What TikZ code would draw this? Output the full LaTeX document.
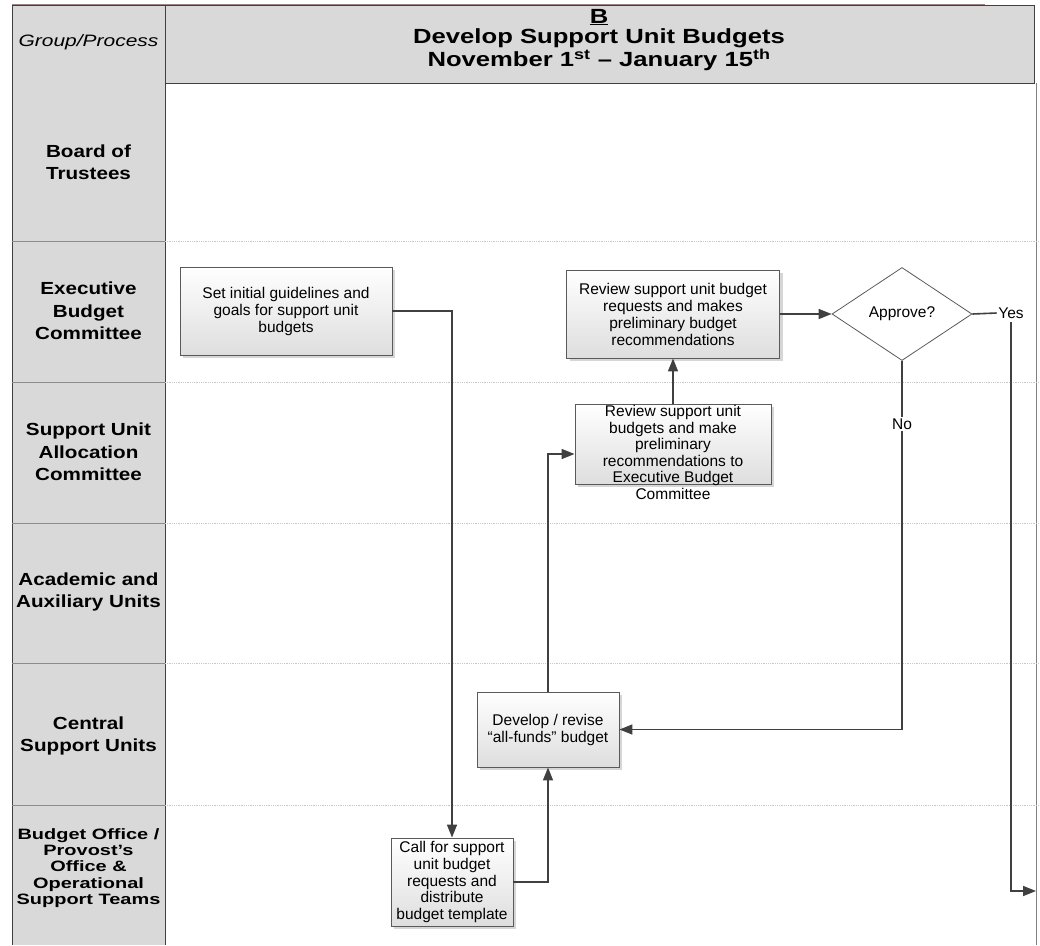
\documentclass[tikz,border=0pt]{standalone}
\usepackage{fontspec}
\setmainfont{Liberation Sans}
\newfontfamily\hdrfont[FakeStretch=1.27]{Liberation Sans}
\newfontfamily\titlefont[FakeStretch=1.25]{Liberation Sans}
\newfontfamily\lanefont[FakeStretch=1.18]{Liberation Sans}
\newfontfamily\lanewidefont[FakeStretch=1.33]{Liberation Sans}
\usetikzlibrary{shapes.geometric,arrows.meta,shadows}
\definecolor{lanegray}{HTML}{D9D9D9}
\definecolor{edgegray}{HTML}{404040}
\definecolor{boxgray}{HTML}{5A5A5A}
\definecolor{sepgray}{HTML}{C8C8C8}
\definecolor{topred}{HTML}{B07A7A}
\tikzset{
  procbox/.style={draw=boxgray, line width=0.9pt, top color=white, bottom color=black!13,
    align=center, font=\fontsize{15.5}{17}\selectfont, inner sep=1pt,
    drop shadow={shadow xshift=3pt, shadow yshift=-3pt, fill=black!35, opacity=0.45}},
  boxtext/.style={align=center, font=\fontsize{15.5}{16.5}\selectfont, inner sep=1pt},
  decision/.style={diamond, draw=boxgray, line width=0.8pt, fill=white, inner sep=0pt,
    font=\fontsize{15.5}{17}\selectfont},
  flow/.style={draw=edgegray, line width=1.6pt, -{Triangle[length=13pt,width=10pt]}},
  plainline/.style={draw=edgegray, line width=1.6pt},
  lanelbl/.style={align=center, font=\lanefont\bfseries\fontsize{17.5}{22.5}\selectfont},
  edgelbl/.style={font=\fontsize{15.5}{17}\selectfont, inner sep=1.5pt},
  lanesep/.style={draw=sepgray, line width=0.8pt, densely dotted},
  colsep/.style={draw=black!45, line width=0.8pt},
}
\begin{document}
\begin{tikzpicture}[x=1pt,y=-1pt]
\useasboundingbox (0,0) rectangle (1040,945);
\fill[white] (0,0) rectangle (1040,945);
% header
\fill[lanegray] (12,5) rectangle (1034,83);
\draw[edgegray, line width=0.9pt] (12,83) -- (12,5) -- (1034,5) -- (1034,83) -- cycle;
\draw[topred, line width=1.2pt] (12,4.5) -- (985,4.5);
\draw[edgegray, line width=0.9pt] (165,5) -- (165,83);
\node[font=\hdrfont\itshape\fontsize{16.5}{20}\selectfont] (gp) at (88.5,42) {Group/Process};
\node[align=center, font=\titlefont\bfseries\fontsize{20.5}{20}\selectfont] (title) at (599,40)
  {\underline{B}\\ Develop Support Unit Budgets\\ November 1\textsuperscript{st} – January 15\textsuperscript{th}};
% left column
\fill[lanegray] (12,83) rectangle (165,945);
\draw[edgegray, line width=0.9pt] (12,83) -- (12,945);
\draw[edgegray, line width=0.9pt] (165,83) -- (165,945);
\draw[black!50, line width=0.8pt] (1036,83) -- (1036,945);
% lane separators
\foreach \yy in {241,382,523,663,805} {
  \draw[colsep] (12,\yy) -- (165,\yy);
  \draw[lanesep] (165,\yy) -- (1040,\yy);
}
% lane labels
\node[lanelbl] (l1) at (88.5,162) {Board of\\Trustees};
\node[lanelbl] (l2) at (88.5,311) {Executive\\Budget\\Committee};
\node[lanelbl] (l3) at (88.5,452) {Support Unit\\Allocation\\Committee};
\node[lanelbl] (l4) at (88.5,592) {Academic and\\Auxiliary Units};
\node[lanelbl] (l5) at (88.5,736) {Central\\Support Units};
\node[lanelbl, font=\lanewidefont\bfseries\fontsize{15}{16.3}\selectfont] (l6) at (88.5,868)
  {Budget Office /\\Provost’s\\Office \&\\Operational\\Support Teams};
% process boxes
\node[procbox, minimum width=212pt, minimum height=88pt] (set) at (286,311)
  {Set initial guidelines and\\goals for support unit\\budgets};
\node[procbox, minimum width=213pt, minimum height=88pt] (ebc) at (673,314)
  {Review support unit budget\\requests and makes\\preliminary budget\\recommendations};
\node[decision, minimum width=140pt, minimum height=93pt] (dec) at (902,314) {Approve?};
\node[procbox, minimum width=196pt, minimum height=80pt] (suac) at (673,444) {};
\node[boxtext, anchor=north] (suactext) at ([yshift=-1pt]suac.north)
  {Review support unit\\budgets and make\\preliminary\\recommendations to\\Executive Budget\\Committee};
\node[procbox, minimum width=142pt, minimum height=75pt] (dev) at (548,729.5)
  {Develop / revise\\“all-funds” budget};
\node[procbox, minimum width=122pt, minimum height=88pt, font=\fontsize{15.5}{16.8}\selectfont] (call) at (452,882)
  {Call for support\\unit budget\\requests and\\distribute\\budget template};
% edge labels
\node[edgelbl] (yes) at (1011,313) {Yes};
\node[edgelbl] (no) at (902,424) {No};
\coordinate (yesend) at (1036,891);
% connectors
\draw[flow] (set.east) -| (call.north);
\draw[flow] (call.east) -| (dev.south);
\draw[flow] (dev.north) |- ([yshift=-10pt]suac.west);
\draw[flow] (suac.north) -- (ebc.south);
\draw[flow] (ebc.east) -- (dec.west);
\draw[plainline] (dec.east) -- (yes.west);
\draw[flow] ([yshift=-2pt]yes.south) |- (yesend);
\draw[plainline] (dec.south) -- (no.north);
\draw[flow] (no.south) |- (dev.east);
\end{tikzpicture}
\end{document}
